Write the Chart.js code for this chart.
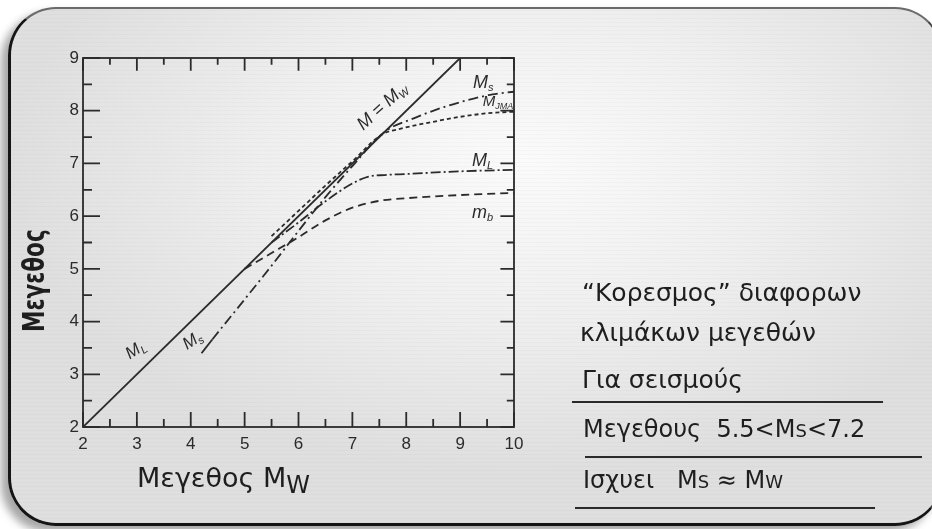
<!DOCTYPE html>
<html>
<head>
<meta charset="utf-8">
<script src="https://cdn.jsdelivr.net/npm/chart.js@4.4.0/dist/chart.umd.min.js"></script>
<style>
  html, body { margin: 0; padding: 0; background: #fff; }
  #page { position: relative; width: 932px; height: 529px; overflow: hidden; background: #fff; }
  #slide {
    position: absolute; left: 8px; top: 7px; width: 930px; height: 514px;
    border-radius: 48px;
    border-left: 3px solid #151515; border-bottom: 3px solid #151515;
    border-top: 2px solid #6a6a6a; border-right: 2px solid #444;
    box-shadow: -7px 6px 9px rgba(0,0,0,0.35);
    background:
      repeating-linear-gradient(0deg, rgba(0,0,0,0.025) 0 1px, transparent 1px 4px),
      radial-gradient(ellipse 55% 60% at 55% 30%, #fbfbfb 0%, #efefef 50%, #dfdfdf 100%);
  }
  canvas#chart { position: absolute; left: 0; top: 0; }
  .hand { position: absolute; color: #1e1e1e; font-family: "DejaVu Sans", sans-serif; white-space: nowrap; }
  .rule { position: absolute; height: 2px; background: #2a2a2a; }
</style>
</head>
<body>
<div id="page">
  <div id="slide"></div>
  <canvas id="chart" width="932" height="529"></canvas>

  <div class="hand" style="left:16px; top:332px; font-size:30px; font-weight:bold; transform:rotate(-90deg) scaleX(0.72); transform-origin:left top;">Μεγεθος</div>
  <div class="hand" style="left:137px; top:462px; font-size:27px;">Μεγεθος M<span style="font-size:24px; position:relative; top:6px;">W</span></div>

  <div class="hand" style="left:582px; top:278px; font-size:25px;">“Κορεσμος” διαφορων</div>
  <div class="hand" style="left:580px; top:318px; font-size:25px;">κλιμάκων μεγεθών</div>
  <div class="hand" style="left:582px; top:365px; font-size:25px;">Για σεισμούς</div>
  <div class="rule" style="left:572px; top:401px; width:311px;"></div>
  <div class="hand" style="left:583px; top:415px; font-size:24px;">Μεγεθους&nbsp; 5.5&lt;M<span style="font-size:18px;">S</span>&lt;7.2</div>
  <div class="rule" style="left:585px; top:456px; width:337px;"></div>
  <div class="hand" style="left:583px; top:466px; font-size:24px;">Ισχυει&nbsp;&nbsp; M<span style="font-size:18px;">S</span> ≈ M<span style="font-size:18px;">W</span></div>
  <div class="rule" style="left:575px; top:507px; width:300px;"></div>
</div>

<script>
// magnitude saturation curves
const xTicks = [2, 3, 4, 5, 6, 7, 8, 9, 10];
const yTicks = [2, 3, 4, 5, 6, 7, 8, 9];

const mwX = [2, 9];
const mwY = [2, 9];

const msX = [4.2, 4.4, 5.0, 5.5, 6.0, 6.5, 7.0, 7.6, 8.15, 8.7, 9.25, 9.6, 10];
const msY = [3.4, 3.66, 4.42, 5.06, 5.72, 6.36, 6.95, 7.6, 7.86, 8.07, 8.23, 8.31, 8.36];

const jmaX = [5.5, 6.0, 6.5, 7.0, 7.55, 7.9, 8.5, 9.1, 9.6, 10];
const jmaY = [5.62, 6.1, 6.58, 7.04, 7.55, 7.66, 7.79, 7.9, 7.96, 7.98];

const mlX = [5.5, 6.0, 6.5, 7.0, 7.3, 7.6, 8.0, 9.0, 10];
const mlY = [5.5, 5.88, 6.28, 6.62, 6.75, 6.78, 6.8, 6.85, 6.88];

const mbX = [5.0, 5.5, 6.0, 6.5, 7.0, 7.5, 8.0, 9.0, 10];
const mbY = [5.0, 5.3, 5.6, 5.92, 6.16, 6.29, 6.34, 6.4, 6.44];

const ink = '#2b2b2b';

function pts(xs, ys) {
    return xs.map((x, i) => ({ x: x, y: ys[i] }));
}

function lineSet(label, xs, ys, dash) {
    return {
        label: label,
        data: pts(xs, ys),
        borderColor: ink,
        borderWidth: 1.8,
        borderDash: dash,
        pointRadius: 0,
        fill: false,
        cubicInterpolationMode: 'monotone'
    };
}

// frame with inward ticks on all four sides
const frameTicks = {
    id: 'frameTicks',
    afterDatasetsDraw(chart) {
        const { ctx, chartArea: a, scales: { x, y } } = chart;
        ctx.save();
        ctx.strokeStyle = ink;
        ctx.lineWidth = 1.8;
        ctx.strokeRect(a.left, a.top, a.right - a.left, a.bottom - a.top);
        for (let v = 2; v <= 10; v += 0.5) {
            const px = x.getPixelForValue(v);
            const len = Number.isInteger(v) ? 15 : 8;
            ctx.beginPath();
            ctx.moveTo(px, a.bottom); ctx.lineTo(px, a.bottom - len);
            ctx.moveTo(px, a.top); ctx.lineTo(px, a.top + len * 0.85);
            ctx.stroke();
        }
        for (let v = 2; v <= 9; v += 0.5) {
            const py = y.getPixelForValue(v);
            const len = Number.isInteger(v) ? 17 : 9;
            ctx.beginPath();
            ctx.moveTo(a.left, py); ctx.lineTo(a.left + len, py);
            ctx.moveTo(a.right, py); ctx.lineTo(a.right - len * 0.8, py);
            ctx.stroke();
        }
        ctx.restore();
    }
};

// curve names written on the figure
const curveNames = {
    id: 'curveNames',
    afterDatasetsDraw(chart) {
        const { ctx, scales: { x, y } } = chart;
        function name(main, sub, vx, vy, rot, size) {
            ctx.save();
            ctx.translate(x.getPixelForValue(vx), y.getPixelForValue(vy));
            ctx.rotate(rot * Math.PI / 180);
            ctx.fillStyle = ink;
            ctx.textBaseline = 'alphabetic';
            ctx.font = 'italic ' + size + 'px "Liberation Sans", sans-serif';
            ctx.fillText(main, 0, 0);
            const w = ctx.measureText(main).width;
            ctx.font = 'italic ' + Math.round(size * 0.62) + 'px "Liberation Sans", sans-serif';
            ctx.fillText(sub, w, 3);
            ctx.restore();
        }
        name('M = M', 'W', 7.2, 7.62, -42, 18);
        name('M', 's', 9.24, 8.43, 0, 18);
        name('M', 'JMA', 9.42, 8.09, 0, 15);
        name('M', 'L', 9.22, 6.95, 0, 18);
        name('m', 'b', 9.22, 5.97, 0, 18);
        name('M', 'L', 2.87, 3.28, -33, 17);
        name('M', 's', 3.93, 3.46, -33, 17);
    }
};

new Chart(document.getElementById('chart'), {
    type: 'line',
    data: {
        datasets: [
            lineSet('M = Mw', mwX, mwY, []),
            Object.assign(lineSet('Ms', msX, msY, [10, 4, 2, 4]), {
                segment: { borderDash: c => c.p0DataIndex === 0 ? [] : [10, 4, 2, 4] }
            }),
            lineSet('MJMA', jmaX, jmaY, [4, 3]),
            lineSet('ML', mlX, mlY, [10, 3, 2, 3]),
            lineSet('mb', mbX, mbY, [8, 5])
        ]
    },
    options: {
        responsive: false,
        animation: false,
        layout: { padding: { top: 58, right: 418, left: 0, bottom: 0 } },
        plugins: { legend: { display: false }, tooltip: { enabled: false } },
        scales: {
            x: {
                type: 'linear', min: 2, max: 10,
                afterBuildTicks: s => { s.ticks = xTicks.map(v => ({ value: v })); },
                afterFit: s => { s.height = 102; },
                grid: { display: false, drawTicks: false },
                border: { display: false },
                ticks: { color: ink, padding: 7, font: { family: 'Liberation Sans', size: 17 } }
            },
            y: {
                type: 'linear', min: 2, max: 9,
                afterBuildTicks: s => { s.ticks = yTicks.map(v => ({ value: v })); },
                afterFit: s => { s.width = 83; },
                grid: { display: false, drawTicks: false },
                border: { display: false },
                ticks: { color: ink, padding: 4, font: { family: 'Liberation Sans', size: 17 } }
            }
        }
    },
    plugins: [frameTicks, curveNames]
});
</script>
</body>
</html>
